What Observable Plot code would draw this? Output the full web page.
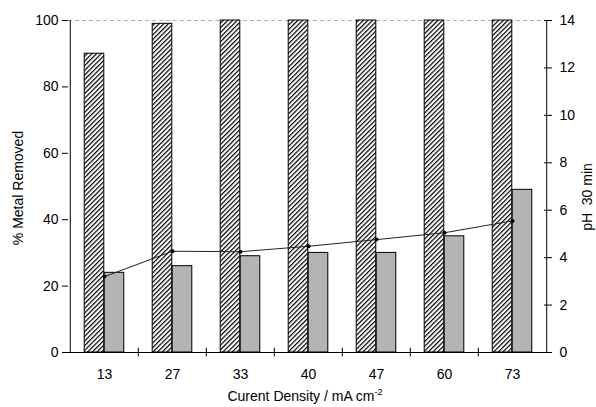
<!DOCTYPE html>
<html><head><meta charset="utf-8">
<script src="https://cdn.jsdelivr.net/npm/d3@7"></script>
<script src="https://cdn.jsdelivr.net/npm/@observablehq/plot@0.6"></script>
<style>
body{margin:0;background:#fff}
svg{font-family:"Liberation Sans",Arial,sans-serif}
</style>
</head><body><div id="chart"></div>
<script>
const densities = ["13","27","33","40","47","60","73"];
const metalRemoved = [90, 99, 100, 100, 100, 100, 100];
const secondRemoved = [24, 26, 29, 30, 30, 35, 49];
const pH30 = [3.2, 4.27, 4.25, 4.48, 4.76, 5.05, 5.55];
const leftTicks = [0, 20, 40, 60, 80, 100];
const rightTicks = [0, 2, 4, 6, 8, 10, 12, 14];
const PH_MAX = 14;
const toLeft = v => v * 100 / PH_MAX;

const data = densities.map((d, i) => ({d, metal: metalRemoved[i], second: secondRemoved[i], ph: pH30[i]}));

const W = 596, H = 407, mL = 68, mR = 49, mT = 20, mB = 55;
const bw = (W - mL - mR) / densities.length;
const half = bw / 2;
const barW = 20;

const plot = Plot.plot({
  width: W, height: H,
  marginLeft: mL, marginRight: mR, marginTop: mT, marginBottom: mB,
  x: {type: "band", domain: densities, padding: 0},
  y: {domain: [0, 100]},
  style: {fontFamily: "'Liberation Sans', Arial, sans-serif", fontSize: "14px", color: "black", background: "white"},
  marks: [
    Plot.ruleY([100], {stroke: "#b0b0b0", strokeDasharray: "4,3"}),
    Plot.barY(data, {x: "d", y: "metal", fill: "url(#hatch)", stroke: "black", strokeWidth: 1,
      insetLeft: half - barW, insetRight: half}),
    Plot.barY(data, {x: "d", y: "second", fill: "#b4b4b4", stroke: "black", strokeWidth: 1,
      insetLeft: half, insetRight: half - barW}),
    Plot.line(data, {x: "d", y: d => toLeft(d.ph), stroke: "#222", strokeWidth: 1}),
    Plot.dot(data, {x: "d", y: d => toLeft(d.ph), r: 2, fill: "black", stroke: "none"}),
    Plot.ruleY([0], {stroke: "black"}),
    Plot.ruleX([densities[0]], {x: d => d, dx: -half, y1: 0, y2: 100, stroke: "black"}),
    Plot.ruleX([densities[densities.length - 1]], {x: d => d, dx: half, y1: 0, y2: 100, stroke: "black"}),
    Plot.ruleX(densities.slice(1), {x: d => d, dx: -half, y1: -1.3, y2: 1.3, stroke: "black"}),
    Plot.axisY({anchor: "left", ticks: leftTicks, tickSize: 6, tickPadding: 4, label: null, fontSize: 14}),
    Plot.axisY({anchor: "right", ticks: rightTicks.map(toLeft), tickFormat: d => Math.round(d * PH_MAX / 100),
      tickSize: 8, dx: -4, tickPadding: 8, label: null, fontSize: 14}),
    Plot.axisX({tickSize: 0, tickPadding: 17, label: null, fontSize: 14})
  ]
});

const svg = d3.select(plot);
const defs = svg.insert("defs", ":first-child");
const pat = defs.append("pattern").attr("id", "hatch").attr("patternUnits", "userSpaceOnUse")
  .attr("width", 3.3).attr("height", 3.3).attr("patternTransform", "rotate(45)");
pat.append("rect").attr("width", 3.3).attr("height", 3.3).attr("fill", "white");
pat.append("line").attr("x1", 0.6).attr("y1", 0).attr("x2", 0.6).attr("y2", 3.3)
  .attr("stroke", "black").attr("stroke-width", 1.2);

svg.append("text").attr("transform", "translate(23,188) rotate(-90)")
  .attr("text-anchor", "middle").attr("font-size", 14).attr("fill", "black")
  .text("% Metal Removed");
svg.append("text").attr("transform", "translate(592,197) rotate(-90)")
  .attr("text-anchor", "middle").attr("font-size", 14).attr("fill", "black")
  .text("pH  30 min");
const xl = svg.append("text").attr("x", 305).attr("y", 401).attr("text-anchor", "middle")
  .attr("font-size", 14).attr("fill", "black");
xl.append("tspan").text("Curent Density / mA cm");
xl.append("tspan").attr("font-size", 9).attr("dy", -6).text("-2");

document.getElementById("chart").appendChild(plot);
</script>
</body></html>
